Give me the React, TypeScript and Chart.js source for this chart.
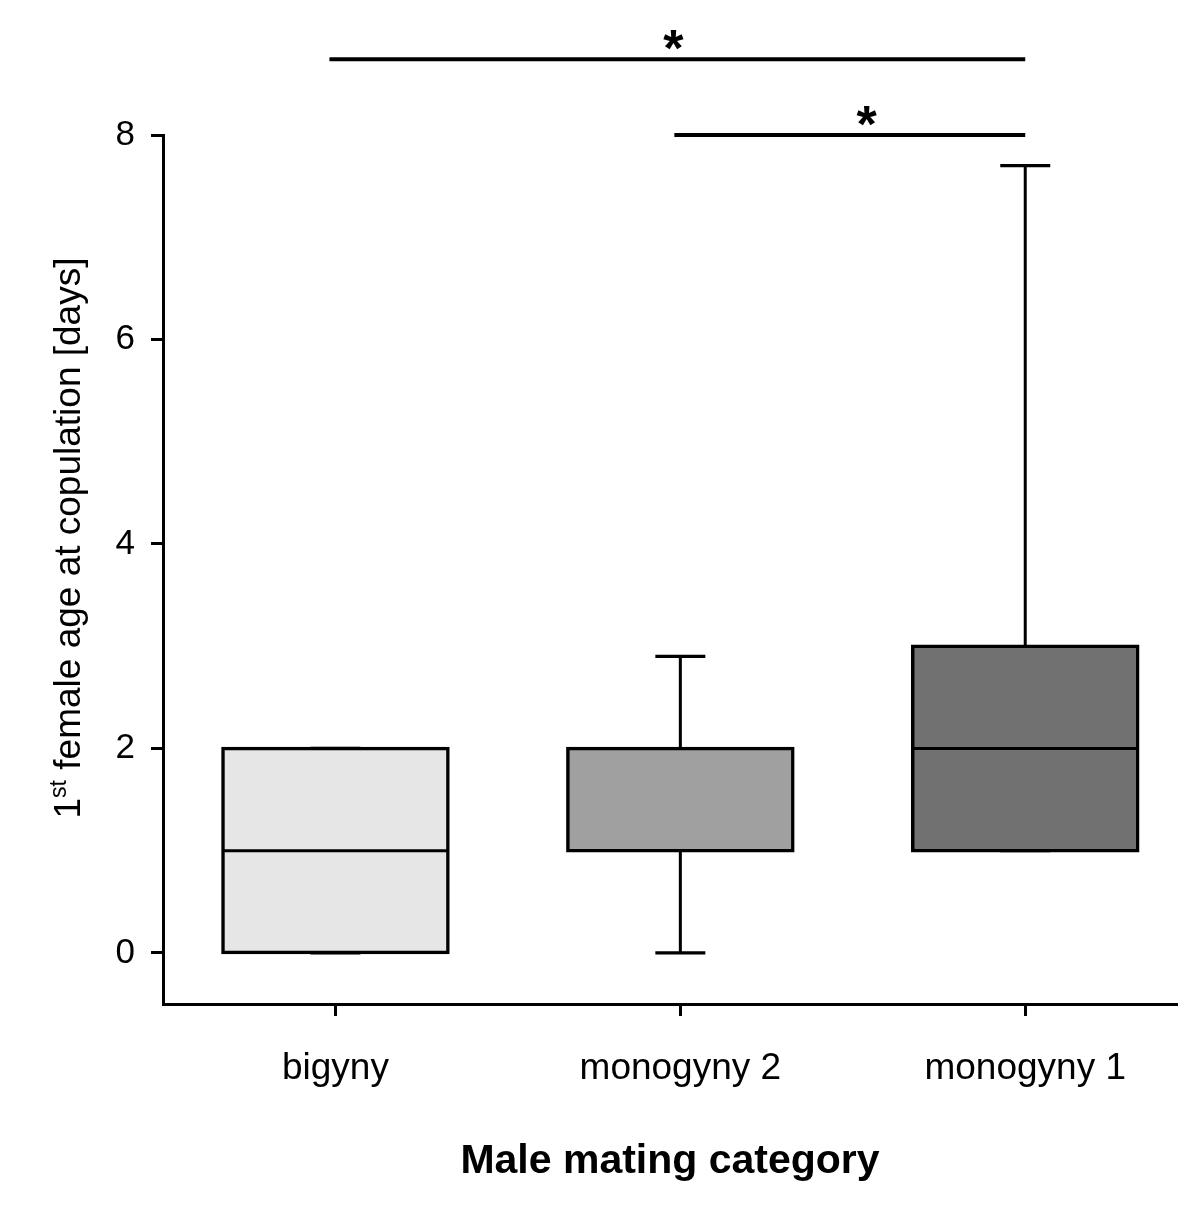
import React, { useEffect, useRef } from "react";
import { Chart, registerables } from "chart.js";

Chart.register(...registerables);

const categories = ["bigyny", "monogyny 2", "monogyny 1"];
const mins = [0, 0, 1];
const q1s = [0, 1, 1];
const medians = [1, 2, 2];
const q3s = [2, 2, 3];
const maxs = [2, 2.9, 7.7];
const boxColors = ["#e6e6e6", "#a0a0a0", "#717171"];
const yTicks = [0, 2, 4, 6, 8];
const sigFrom = [0, 1];
const sigTo = [2, 2];
const sigLevels = [8.74, 8.0];
const sigLabels = ["*", "*"];
const sigLabelAt = [0.98, 1.54];
const yTitleMain = "1";
const yTitleSup = "st";
const yTitleRest = " female age at copulation [days]";
const xTitle = "Male mating category";

const FONT = "'Liberation Sans', Arial, Helvetica, sans-serif";

const boxPlugin = {
  id: "boxExtras",
  afterDatasetsDraw(chart: any) {
    const ctx = chart.ctx;
    const xs = chart.scales.x;
    const ys = chart.scales.y;
    const meta = chart.getDatasetMeta(0);
    ctx.save();
    ctx.strokeStyle = "#000";
    ctx.lineCap = "butt";
    categories.forEach((_, i) => {
      const cx = xs.getPixelForValue(i);
      const el = meta.data[i];
      const w = el ? el.width : 225;
      const capW = 50;
      ctx.lineWidth = 3;
      ctx.beginPath();
      ctx.moveTo(cx, ys.getPixelForValue(q3s[i]));
      ctx.lineTo(cx, ys.getPixelForValue(maxs[i]));
      ctx.moveTo(cx, ys.getPixelForValue(q1s[i]));
      ctx.lineTo(cx, ys.getPixelForValue(mins[i]));
      ctx.stroke();
      ctx.lineWidth = 3.2;
      ctx.beginPath();
      ctx.moveTo(cx - capW / 2, ys.getPixelForValue(maxs[i]));
      ctx.lineTo(cx + capW / 2, ys.getPixelForValue(maxs[i]));
      ctx.moveTo(cx - capW / 2, ys.getPixelForValue(mins[i]));
      ctx.lineTo(cx + capW / 2, ys.getPixelForValue(mins[i]));
      ctx.stroke();
      ctx.lineWidth = 3;
      ctx.beginPath();
      ctx.moveTo(cx - w / 2, ys.getPixelForValue(medians[i]));
      ctx.lineTo(cx + w / 2, ys.getPixelForValue(medians[i]));
      ctx.stroke();
    });
    ctx.restore();
  },
  afterDraw(chart: any) {
    const ctx = chart.ctx;
    const xs = chart.scales.x;
    const ys = chart.scales.y;
    ctx.save();
    sigLevels.forEach((lvl, k) => {
      const x1 = xs.getPixelForValue(sigFrom[k]);
      const x2 = xs.getPixelForValue(sigTo[k]);
      const y = ys.getPixelForValue(lvl);
      ctx.strokeStyle = "#000";
      ctx.lineWidth = 4;
      ctx.beginPath();
      ctx.moveTo(x1 - 6, y);
      ctx.lineTo(x2, y);
      ctx.stroke();
      ctx.font = `bold 52px ${FONT}`;
      ctx.fillStyle = "#000";
      ctx.textAlign = "center";
      ctx.textBaseline = "alphabetic";
      const m = ctx.measureText(sigLabels[k]);
      const centerY = y - 19;
      const baseY = centerY + (m.actualBoundingBoxAscent - m.actualBoundingBoxDescent) / 2;
      ctx.fillText(sigLabels[k], xs.getPixelForValue(sigLabelAt[k]), baseY);
    });
    const big = 37;
    const small = 23;
    ctx.translate(72, 530);
    ctx.rotate(-Math.PI / 2);
    ctx.textAlign = "left";
    ctx.textBaseline = "alphabetic";
    ctx.fillStyle = "#000";
    ctx.font = `${big}px ${FONT}`;
    const w1 = ctx.measureText(yTitleMain).width;
    const w3 = ctx.measureText(yTitleRest).width;
    ctx.font = `${small}px ${FONT}`;
    const w2 = ctx.measureText(yTitleSup).width;
    let x0 = -(w1 + w2 + w3) / 2;
    ctx.font = `${big}px ${FONT}`;
    ctx.fillText(yTitleMain, x0, 0);
    x0 += w1;
    ctx.font = `${small}px ${FONT}`;
    ctx.fillText(yTitleSup, x0, -14);
    x0 += w2;
    ctx.font = `${big}px ${FONT}`;
    ctx.fillText(yTitleRest, x0, 0);
    ctx.restore();
  },
};

export default function App() {
  const ref = useRef<HTMLCanvasElement | null>(null);
  useEffect(() => {
    if (!ref.current) return;
    const gridOpts = {
      display: true,
      drawOnChartArea: false,
      drawTicks: true,
      tickLength: 12,
      tickWidth: 3,
      tickColor: "#000",
      offset: false,
    };
    const chart = new Chart(ref.current, {
      type: "bar",
      data: {
        datasets: [
          {
            data: categories.map((_, i) => ({ x: i, y: [q1s[i], q3s[i]] })) as any,
            backgroundColor: boxColors,
            borderColor: "#000",
            borderWidth: 3.5,
            borderSkipped: false,
            inflateAmount: 1.75,
            barThickness: 225,
          },
        ],
      },
      options: {
        responsive: false,
        animation: false,
        events: [],
        layout: { padding: { top: 127, right: 15, left: 0, bottom: 0 } },
        plugins: { legend: { display: false }, tooltip: { enabled: false } },
        scales: {
          x: {
            type: "linear",
            min: -0.5,
            max: 2.44,
            offset: false,
            afterBuildTicks: (s: any) => {
              s.ticks = categories.map((_, i) => ({ value: i }));
            },
            ticks: {
              callback: (v: any) => categories[Math.round(Number(v))] ?? "",
              font: { family: FONT, size: 37 },
              color: "#000",
              padding: 31,
              autoSkip: false,
              maxRotation: 0,
            },
            grid: gridOpts,
            border: { display: true, color: "#000", width: 3 },
            title: {
              display: true,
              text: xTitle,
              font: { family: FONT, size: 41, weight: "bold" },
              color: "#000",
              padding: { top: 0, bottom: 22 },
            },
            afterFit: (s: any) => {
              s.height = 204;
            },
          },
          y: {
            type: "linear",
            min: -0.5,
            max: 8,
            afterBuildTicks: (s: any) => {
              s.ticks = yTicks.map((v) => ({ value: v }));
            },
            ticks: {
              font: { family: FONT, size: 35 },
              color: "#000",
              padding: 16,
            },
            grid: gridOpts,
            border: { display: true, color: "#000", width: 3 },
            afterFit: (s: any) => {
              s.width = 155;
            },
          },
        },
      } as any,
      plugins: [boxPlugin],
    });
    return () => chart.destroy();
  }, []);
  return (
    <div style={{ width: 1184, height: 1200 }}>
      <canvas ref={ref} width={1184} height={1200} style={{ display: "block" }} />
    </div>
  );
}
